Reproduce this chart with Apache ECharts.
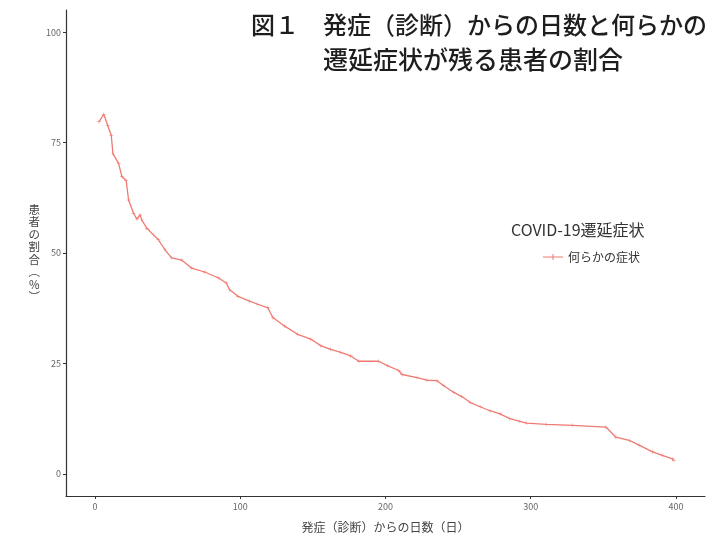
<!DOCTYPE html>
<html>
<head>
<meta charset="utf-8">
<script src="https://cdn.jsdelivr.net/npm/echarts@6/dist/echarts.min.js"></script>
<style>html,body{margin:0;padding:0;background:#fff}#c{width:728px;height:538px}</style>
</head>
<body>
<div id="c"></div>
<script>
// Data (days since onset, % of patients with symptoms)
const days = [2.7, 6.0, 8.7, 11.2, 12.3, 16.2, 18.5, 21.4, 23.1, 26.5, 28.8, 31.0, 32.2, 35.6, 40.2, 43.6, 48.2, 52.7, 59.6, 66.4, 75.5, 84.7, 90.4, 92.7, 98.4, 106.4, 112.1, 119.0, 122.4, 130.3, 139.5, 148.6, 155.5, 162.3, 169.2, 176.0, 181.7, 195.4, 201.2, 209.1, 211.4, 221.7, 228.6, 235.4, 239.9, 246.8, 252.5, 258.2, 265.1, 271.9, 278.8, 285.6, 292.5, 297.1, 310.8, 329.0, 351.8, 358.7, 367.8, 374.7, 383.8, 390.6, 397.5, 398.6];
const percent = [79.7, 81.4, 78.9, 76.6, 72.5, 70.3, 67.3, 66.4, 62.0, 59.0, 57.7, 58.6, 57.5, 55.6, 54.1, 53.0, 50.7, 48.9, 48.4, 46.6, 45.7, 44.4, 43.2, 41.7, 40.2, 39.1, 38.4, 37.6, 35.4, 33.5, 31.6, 30.5, 29.0, 28.2, 27.5, 26.7, 25.5, 25.5, 24.5, 23.4, 22.5, 21.8, 21.2, 21.1, 20.0, 18.5, 17.5, 16.2, 15.2, 14.3, 13.6, 12.5, 11.9, 11.5, 11.2, 11.0, 10.6, 8.3, 7.6, 6.5, 5.0, 4.2, 3.4, 3.1];
const xTicks = [0, 100, 200, 300, 400];
const yTicks = [0, 25, 50, 75, 100];
const seriesName = '何らかの症状';
const legendTitle = 'COVID-19遷延症状';
const titleLine1 = '図１　発症（診断）からの日数と何らかの';
const titleLine2 = '遷延症状が残る患者の割合';
const xName = '発症（診断）からの日数（日）';
const yName = '患\n者\nの\n割\n合\n︵\n%\n︶';

const FONT = '"Noto Sans CJK JP", "Noto Sans", sans-serif';
const RED = '#EE7A72';
const plus = 'path://M0,4.5h10v1h-10zM4.5,0h1v10h-1z';

const chart = echarts.init(document.getElementById('c'), null, {renderer: 'canvas'});
chart.setOption({
  backgroundColor: '#fff',
  animation: false,
  textStyle: {fontFamily: FONT},
  title: [
    {text: titleLine1, left: 246, top: 8, textStyle: {fontFamily: FONT, fontSize: 24, fontWeight: 500, color: '#1e1e1e'}},
    {text: titleLine2, left: 318, top: 42, textStyle: {fontFamily: FONT, fontSize: 25, fontWeight: 500, color: '#1e1e1e'}},
    {text: legendTitle, left: 506, top: 217, textStyle: {fontFamily: FONT, fontSize: 16, fontWeight: 'normal', color: '#333'}}
  ],
  legend: {
    left: 538, top: 246,
    itemWidth: 20, itemHeight: 10, itemGap: 6,
    icon: 'path://M0,4.5h20v1h-20zM9.5,2h1v6h-1z',
    textStyle: {fontFamily: FONT, fontSize: 12, color: '#333'},
    data: [{name: seriesName, itemStyle: {color: RED}}]
  },
  grid: {left: 66, right: 23, top: 10, bottom: 41},
  xAxis: {
    type: 'value', min: -20, max: 420,
    name: xName, nameLocation: 'middle', nameGap: 25,
    nameTextStyle: {fontFamily: FONT, fontSize: 12, color: '#444'},
    axisLine: {onZero: false, lineStyle: {color: '#333', width: 1.2}},
    axisTick: {show: true, length: 3, lineStyle: {color: '#333'}, customValues: xTicks},
    axisLabel: {fontSize: 9, color: '#666', margin: 6, customValues: xTicks},
    splitLine: {show: false}
  },
  yAxis: {
    type: 'value', min: -5, max: 105,
    name: yName, nameLocation: 'middle', nameGap: 30, nameRotate: 0,
    nameTextStyle: {fontFamily: FONT, fontSize: 11.5, color: '#444', lineHeight: 12.5, align: 'center', verticalAlign: 'middle'},
    axisLine: {show: true, onZero: false, lineStyle: {color: '#333', width: 1.2}},
    axisTick: {show: true, length: 3, lineStyle: {color: '#333'}, customValues: yTicks},
    axisLabel: {fontSize: 9, color: '#666', margin: 5, customValues: yTicks},
    splitLine: {show: false}
  },
  series: [{
    name: seriesName,
    type: 'line',
    data: days.map((d, i) => [d, percent[i]]),
    showSymbol: true,
    symbol: plus,
    symbolSize: 4,
    itemStyle: {color: RED},
    lineStyle: {color: RED, width: 1.3},
    emphasis: {disabled: true}
  }]
});
</script>
</body>
</html>
